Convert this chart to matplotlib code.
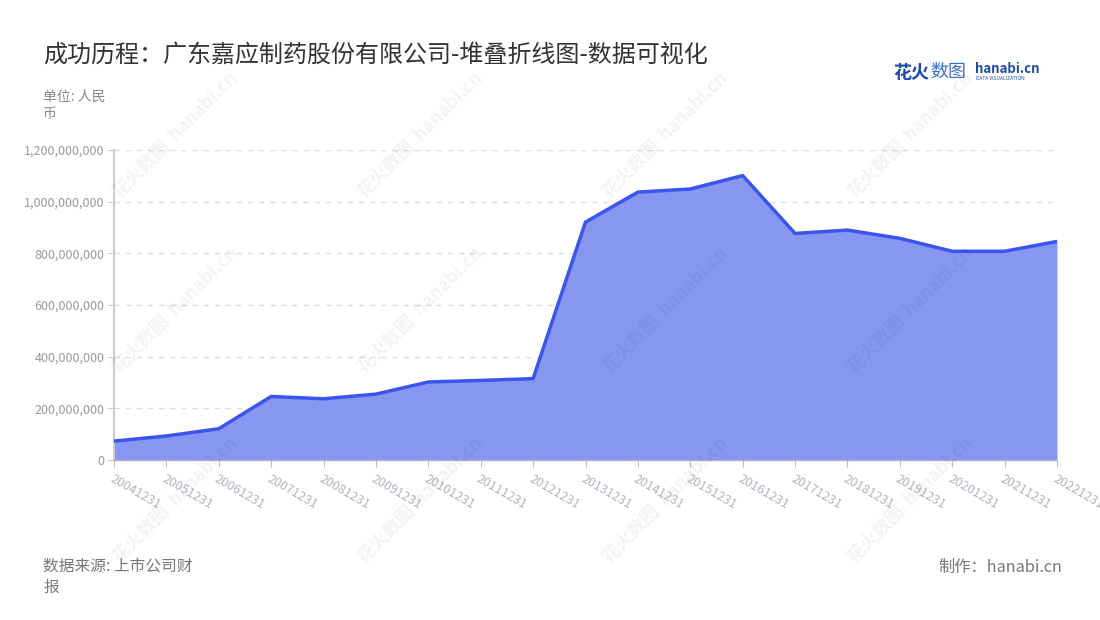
import matplotlib
matplotlib.use("Agg")
import matplotlib.pyplot as plt
from matplotlib.ticker import FuncFormatter, MultipleLocator

plt.rcParams['font.family'] = ['Noto Sans CJK SC', 'DejaVu Sans']

dates = ["20041231", "20051231", "20061231", "20071231", "20081231", "20091231",
         "20101231", "20111231", "20121231", "20131231", "20141231", "20151231",
         "20161231", "20171231", "20181231", "20191231", "20201231", "20211231",
         "20221231"]
values = [73e6, 93e6, 121e6, 246e6, 237e6, 255e6, 302e6, 308e6, 315e6, 921e6,
          1037e6, 1049e6, 1101e6, 877e6, 890e6, 858e6, 808e6, 808e6, 846e6]

title = "成功历程：广东嘉应制药股份有限公司-堆叠折线图-数据可视化"
unit = "单位: 人民\n币"
source = "数据来源: 上市公司财\n报"
maker = "制作：hanabi.cn"

W, H = 1100, 620
fig = plt.figure(figsize=(W / 100, H / 100), dpi=100)
ax = fig.add_axes([114 / W, 1 - 460 / H, (1057 - 114) / W, (460 - 150) / H])

x = list(range(len(dates)))
ax.fill_between(x, values, 0, color="#8796f0", lw=0, zorder=2)
ax.plot(x, values, color="#3a55ee", lw=2.5, solid_joinstyle="round", zorder=3)

ax.set_xlim(0, len(dates) - 1)
ax.set_ylim(0, 1.2e9)
ax.yaxis.set_major_locator(MultipleLocator(2e8))
ax.yaxis.set_major_formatter(FuncFormatter(lambda v, p: f"{int(v):,}"))
ax.grid(axis="y", color="#dddddd", linestyle=(0, (4, 4)), lw=1, zorder=1)
ax.set_axisbelow(True)

ax.set_xticks(x)
ax.set_xticklabels(dates, rotation=-30, ha="left", va="top", rotation_mode="anchor")
ax.tick_params(axis="x", length=5, color="#b8bcc8", labelsize=9, labelcolor="#b0b4c4", pad=4)
ax.tick_params(axis="y", length=5, color="#cccccc", labelsize=9, labelcolor="#999999", pad=2)

for s in ["top", "right"]:
    ax.spines[s].set_visible(False)
ax.spines["left"].set_color("#cccccc")
ax.spines["left"].set_linewidth(1.5)
ax.spines["bottom"].set_color("#aab0c8")
ax.spines["bottom"].set_linewidth(1)

fig.text(43 / W, 1 - 55 / H, title, fontsize=17.3, color="#333333", va="center", ha="left")
fig.text(43 / W, 1 - 90 / H, unit, fontsize=10, color="#888888", va="top", ha="left", linespacing=1.3)
fig.text(43 / W, 1 - 558 / H, source, fontsize=11.3, color="#777777", va="top", ha="left", linespacing=1.3)
fig.text(1062 / W, 1 - 567 / H, maker, fontsize=11.7, color="#777777", va="center", ha="right")

# logo
fig.text(893 / W, 1 - 72 / H, "花火", fontsize=13, color="#1d4aa8", fontweight="bold", va="center", ha="left")
fig.text(930 / W, 1 - 72 / H, "数图", fontsize=13, color="#3b6fd1", va="center", ha="left")
fig.text(975 / W, 1 - 69 / H, "hanabi.cn", fontsize=9.5, color="#1d4aa8", fontweight="bold", va="center", ha="left")
fig.text(976 / W, 1 - 79 / H, "DATA VISUALIZATION", fontsize=3.5, color="#1d4aa8", va="center", ha="left")

# watermarks
for cx in [175, 420, 665, 910]:
    for cy in [135, 310, 500]:
        fig.text(cx / W, 1 - cy / H, "花火数图  hanabi.cn", fontsize=13, color="#000000", alpha=0.05,
                 rotation=45, ha="center", va="center", fontweight="bold", zorder=10)

fig.savefig("out.png", dpi=100)
